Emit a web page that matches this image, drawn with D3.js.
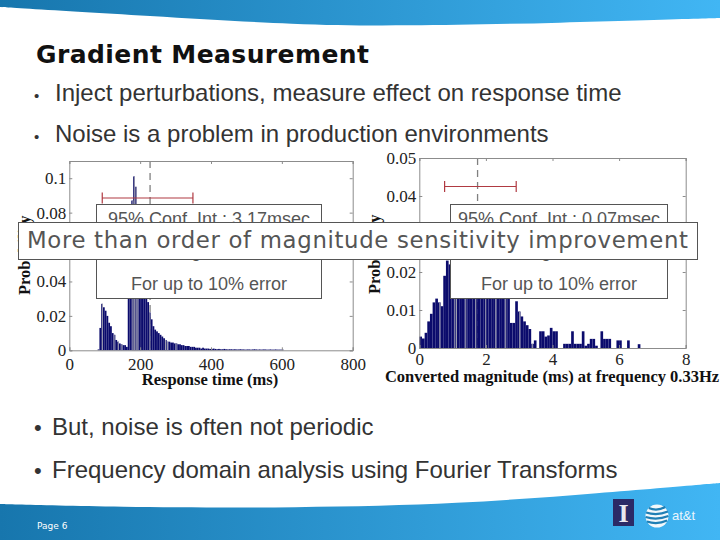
<!DOCTYPE html>
<html>
<head>
<meta charset="utf-8">
<script src="https://cdn.jsdelivr.net/npm/d3@7"></script>
<style>
html, body { margin: 0; padding: 0; background: #fff; overflow: hidden; }
svg { display: block; }
</style>
</head>
<body>
<svg id="slide" width="720" height="540"></svg>
<script>
// left histogram: probability per 5 ms bin
var leftBinStart = 80, leftBinSize = 5;
var leftProb = [.0005,.013,.027,.025,.023,.020,.016,.014,.010,.009,.006,.005,.004,.0035,.003,.003,.002,
  .045,.060,.087,.101,.095,.075,.062,.055,.050,.042,.033,.028,.022,.018,.014,.012,.011,.010,.009,.008,.007,.006,.005,
  .005,.0045,.0045,.004,.004,.0035,.0035,.003,.003,.0025,.0025,.0025,.002,.002,.002,.0015,.0015,.0015,.001,.0015,
  .001,.001,.001,.0008,.0008,.001,.0008,.0006,.0008,.0006,.0006,.0008,.0006,.0005,.0006,.0006,.0005,.0006,.0005,.0005,
  .0006,.0005,.0005,.0004,.0005,.0005,.0004,.0005,.0006,.0005,.0004,.0005,.0004,.0005,.0005,.0004,.0004,.0005,.0004,.0004,.0005,.0004,.0004,.0004,.0004];
var leftStripes = [92, 125, 137, 147, 178, 182, 187, 192, 226, 270, 276, 300];
var leftXTicks = [0, 200, 400, 600, 800];
var leftYTicks = [0, .02, .04, .06, .08, .1];
var leftYLabels = ["0", "0.02", "0.04", "0.06", "0.08", "0.1"];
var leftConf = [93, 349, .0885];
var leftMean = 228;

// right histogram: probability per 0.08 ms bin
var rightBinSize = .08;
var rightProb = [.003,.0025,.004,.007,.009,.012,.013,.012,.011,.019,.023,.022,.024,.026,.029,.027,.030,.028,.026,.027,.025,.024,.026,.023,.022,.021,.022,.020,.019,.018,.017,.016,.015,.014,
  .0066,.0066,.0123,.0096,.0083,.007,.006,.005,.0011,.002,0,.0044,.0044,.003,.0033,.0053,.0044,.0044,0,0,.0011,.0011,.0011,.0044,.0011,.0011,.0011,.0044,.0006,.0011,.0024,.0024,.0006,0,.0044,.0024,.0024,.0024,0,0,.002,.002,0,0,.002,0,0,0,.001];
var rightStripes = [.6, 1.05, 1.1, 1.38, 1.68, 1.98, 2.28, 2.58, 3.0, 3.38];
var rightXTicks = [0, 2, 4, 6, 8];
var rightYTicks = [0, .01, .02, .03, .04, .05];
var rightYLabels = ["0", "0.01", "0.02", "0.03", "0.04", "0.05"];
var rightConf = [.76, 2.91, .0425];
var rightMean = 1.75;

var upperBullets = ["Inject perturbations, measure effect on response time", "Noise is a problem in production environments"];
var lowerBullets = ["But, noise is often not periodic", "Frequency domain analysis using Fourier Transforms"];

var svg = d3.select("#slide");
var defs = svg.append("defs");
var grad = defs.append("linearGradient").attr("id", "blue");
grad.append("stop").attr("offset", "0%").attr("stop-color", "#1776ad");
grad.append("stop").attr("offset", "100%").attr("stop-color", "#41b6f4");

// header + footer bands
var curve = d3.line().curve(d3.curveBasis);
var headerEdge = [[0, 7], [0, 7], [150, 16], [300, 25], [400, 26], [560, 23], [720, 18], [720, 18]];
var footerEdge = [[0, 504], [0, 504], [110, 507], [300, 508], [460, 504], [600, 493], [720, 483], [720, 483]];
svg.append("path").attr("fill", "url(#blue)").attr("d", curve(headerEdge) + "L720,0L0,0Z");
svg.append("path").attr("fill", "url(#blue)").attr("d", curve(footerEdge) + "L720,540L0,540Z");

// slide text
svg.append("text").attr("x", 36).attr("y", 63)
  .style("font", "bold 25px 'DejaVu Sans'").attr("fill", "#111").attr("textLength", 333)
  .text("Gradient Measurement");

upperBullets.forEach(function (s, i) {
  svg.append("text").attr("x", 34).attr("y", 101 + i * 41).style("font", "15px 'Liberation Sans'").attr("fill", "#333").text("•");
  svg.append("text").attr("x", 55).attr("y", 101 + i * 41).style("font", "24px 'Liberation Sans'").attr("fill", "#333").text(s);
});
lowerBullets.forEach(function (s, i) {
  svg.append("text").attr("x", 34).attr("y", 435 + i * 43).style("font", "22px 'Liberation Sans'").attr("fill", "#333").text("•");
  svg.append("text").attr("x", 52).attr("y", 435 + i * 43).style("font", "24px 'Liberation Sans'").attr("fill", "#333").text(s);
});

function histogram(o) {
  var x = d3.scaleLinear().domain(o.xDomain).range([o.left, o.right]);
  var y = d3.scaleLinear().domain(o.yDomain).range([o.base, o.top]);
  var g = svg.append("g");
  var probAt = function (v) { return o.prob[Math.floor((v - o.start) / o.size)] || 0; };

  // dashed mean line sits behind the bars
  g.append("line").attr("x1", x(o.mean)).attr("x2", x(o.mean)).attr("y1", o.top).attr("y2", o.base)
    .attr("stroke", "#808080").attr("stroke-width", 1.3).attr("stroke-dasharray", "7,5");

  g.selectAll(".bar").data(o.prob).enter().append("rect")
    .attr("x", function (d, i) { return x(o.start + i * o.size); })
    .attr("width", x(o.size) - x(0))
    .attr("y", function (d) { return y(d); })
    .attr("height", function (d) { return y(0) - y(d); })
    .attr("fill", "#0b0b6c");

  g.selectAll(".stripe").data(o.stripes).enter().append("rect")
    .attr("x", function (d) { return x(d); })
    .attr("width", 1)
    .attr("y", function (d) { return y(probAt(d)); })
    .attr("height", function (d) { return y(0) - y(probAt(d)); })
    .attr("fill", "#a5a5b5");

  // frame and ticks
  var axes = [
    d3.axisBottom(x).tickValues(o.xTicks).tickSize(-3).tickPadding(o.xPad).tickFormat(d3.format("d")),
    d3.axisLeft(y).tickValues(o.yTicks).tickSize(-3).tickPadding(3).tickFormat(function (d, i) { return o.yLabels[i]; }),
    d3.axisTop(x).tickValues(o.xTicks).tickSize(-3).tickFormat(""),
    d3.axisRight(y).tickValues(o.yTicks).tickSize(-3).tickFormat("")
  ];
  var shift = [[0, o.base], [o.left, 0], [0, o.top], [o.right, 0]];
  axes.forEach(function (a, i) {
    var ag = g.append("g").attr("transform", "translate(" + shift[i] + ")").call(a);
    ag.selectAll("path,line").attr("stroke", "#8c8c8c");
    ag.selectAll("text").style("font", "17px 'Liberation Serif'").attr("fill", "#222");
  });

  // red confidence interval
  var c = o.conf;
  g.append("path").attr("fill", "none").attr("stroke", "#b03a42").attr("stroke-width", 1.2)
    .attr("d", "M" + x(c[0]) + "," + (y(c[2]) - 5.5) + "v11M" + x(c[0]) + "," + y(c[2]) + "H" + x(c[1]) +
      "M" + x(c[1]) + "," + (y(c[2]) - 5.5) + "v11");

  g.append("text").attr("x", o.titleX).attr("y", o.titleY).attr("text-anchor", "middle")
    .style("font", "bold 16.5px 'Liberation Serif'").attr("fill", "#111").text(o.xTitle);
  g.append("text").attr("transform", "translate(" + o.yTitleX + "," + o.yTitleY + ") rotate(-90)")
    .style("font", "bold 16.5px 'Liberation Serif'").attr("fill", "#111").text("Probability");
}

histogram({
  xDomain: [0, 800], yDomain: [0, .11], left: 69.3, right: 352.7, base: 350.3, top: 161,
  prob: leftProb, start: leftBinStart, size: leftBinSize, stripes: leftStripes, xPad: 8,
  xTicks: leftXTicks, yTicks: leftYTicks, yLabels: leftYLabels, conf: leftConf, mean: leftMean,
  xTitle: "Response time (ms)", titleX: 210, titleY: 385, yTitleX: 30, yTitleY: 295
});
histogram({
  xDomain: [0, 8], yDomain: [0, .05], left: 419.3, right: 685.7, base: 348, top: 158,
  prob: rightProb, start: 0, size: rightBinSize, stripes: rightStripes, xPad: 5,
  xTicks: rightXTicks, yTicks: rightYTicks, yLabels: rightYLabels, conf: rightConf, mean: rightMean,
  xTitle: "Converted magnitude (ms) at frequency 0.33Hz", titleX: 552, titleY: 382, yTitleX: 380, yTitleY: 294
});

// annotation boxes
function noteBox(x0, x1, conf) {
  var cx = (x0 + x1) / 2;
  svg.append("rect").attr("x", x0).attr("y", 204.5).attr("width", x1 - x0).attr("height", 94)
    .attr("fill", "#fff").attr("stroke", "#555").attr("stroke-width", 1);
  svg.append("text").attr("x", cx).attr("y", 225).attr("text-anchor", "middle")
    .style("font", "18px 'Liberation Sans'").attr("fill", "#555").text(conf);
  svg.append("text").attr("x", cx - 13).attr("y", 257).attr("text-anchor", "middle")
    .style("font", "18px 'Liberation Sans'").attr("fill", "#555").text("g");
  svg.append("text").attr("x", cx).attr("y", 290).attr("text-anchor", "middle")
    .style("font", "18px 'Liberation Sans'").attr("fill", "#555").text("For up to 10% error");
}
noteBox(96.5, 321.5, "95% Conf. Int.: 3.17msec");
noteBox(450.5, 667.5, "95% Conf. Int.: 0.07msec");

svg.append("rect").attr("x", 18.5).attr("y", 222.5).attr("width", 679).attr("height", 37)
  .attr("fill", "#fff").attr("stroke", "#555").attr("stroke-width", 1);
svg.append("text").attr("x", 27).attr("y", 248).attr("textLength", 661)
  .style("font", "22.8px 'DejaVu Sans'").attr("fill", "#555")
  .text("More than order of magnitude sensitivity improvement");

// footer bits
svg.append("text").attr("x", 37).attr("y", 529).style("font", "9px 'DejaVu Sans'").attr("fill", "#fff").text("Page 6");

svg.append("rect").attr("x", 613).attr("y", 499).attr("width", 21).attr("height", 27).attr("fill", "#2b2a66");
svg.append("text").attr("x", 623.5).attr("y", 522).attr("text-anchor", "middle")
  .style("font", "bold 26px 'Liberation Serif'").attr("fill", "#e8e8f0").text("I");

var globe = svg.append("g").attr("transform", "translate(657,516)");
globe.append("circle").attr("r", 11.5).attr("fill", "#f2f8fb");
var stripeY = [-8, -3.5, 1, 5.5];
globe.selectAll("path").data(stripeY).enter().append("path")
  .attr("fill", "none").attr("stroke", "#1f7fb5").attr("stroke-width", 2.2)
  .attr("d", function (d) {
    var w = Math.sqrt(Math.max(0, 132 - d * d));
    return "M" + (-w) + "," + d + "Q0," + (d + 3.5) + " " + w + "," + (d - 1);
  });
svg.append("text").attr("x", 672).attr("y", 520).style("font", "13px 'Liberation Sans'").attr("fill", "#eaf6fd").text("at&t");
</script>
</body>
</html>
